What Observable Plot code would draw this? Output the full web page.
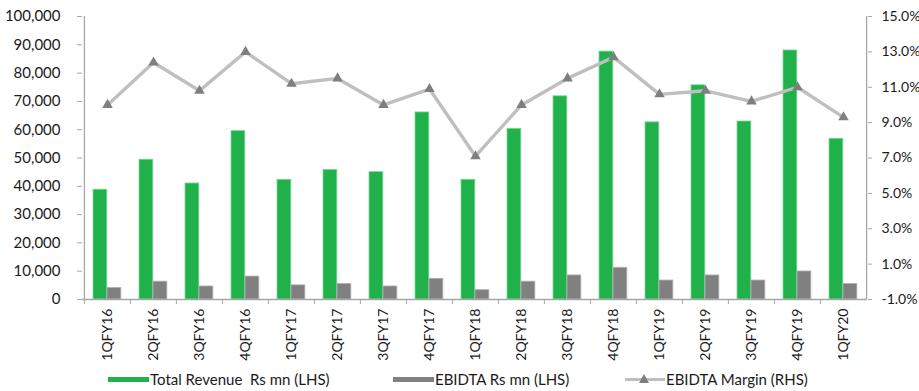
<!DOCTYPE html>
<html>
<head>
<meta charset="utf-8">
<script src="https://cdn.jsdelivr.net/npm/d3@7"></script>
<script src="https://cdn.jsdelivr.net/npm/@observablehq/plot@0.6"></script>
<style>
  body { margin: 0; background: #fff; font-family: Lato, "Open Sans", sans-serif; }
  #chart { position: relative; width: 919px; height: 391px; }
  .legend { position: absolute; top: 369px; left: 0; width: 919px; height: 20px; font-size: 15px; color: #1a1a1a; }
  .item { position: absolute; top: 0; display: flex; align-items: center; height: 20px; white-space: pre; }
  .sw { display: inline-block; width: 41px; height: 5px; margin-right: 1px; }
  .ln { position: relative; width: 40px; height: 20px; margin-right: 1px; }
  .ln .bar { position: absolute; left: 0; right: 0; top: 8.5px; height: 3px; background: #bfbfbf; }
  .ln .tri { position: absolute; left: 14px; top: 5px; width: 0; height: 0;
             border-left: 5px solid transparent; border-right: 5px solid transparent; border-bottom: 9px solid #7f7f7f; }
</style>
</head>
<body>
<div id="chart"></div>
<script>
// Quarterly results, FY16 to 1QFY20
const quarters = ["1QFY16","2QFY16","3QFY16","4QFY16","1QFY17","2QFY17","3QFY17","4QFY17",
                  "1QFY18","2QFY18","3QFY18","4QFY18","1QFY19","2QFY19","3QFY19","4QFY19","1QFY20"];
// Total revenue, Rs mn (left axis)
const revenue = [38800, 49400, 41000, 59500, 42300, 45800, 45000, 66100,
                 42300, 60300, 71800, 87600, 62600, 75700, 62900, 88000, 56800];
// EBIDTA, Rs mn (left axis)
const ebitda = [4100, 6300, 4600, 8100, 5000, 5500, 4600, 7300,
                3300, 6300, 8500, 11200, 6700, 8500, 6700, 9900, 5500];
// EBIDTA margin, % (right axis)
const margin = [10.0, 12.4, 10.8, 13.0, 11.2, 11.5, 10.0, 10.9,
                7.1, 10.0, 11.5, 12.7, 10.6, 10.8, 10.2, 11.0, 9.3];

const leftTicks = [0, 10000, 20000, 30000, 40000, 50000, 60000, 70000, 80000, 90000, 100000];
const rightTicks = [-1, 1, 3, 5, 7, 9, 11, 13, 15];

// The right-hand percentage axis is mapped linearly onto the left-hand value scale
const Y_MAX = 100000, M_MIN = -1, M_MAX = 15;
const toLeft = (m) => (m - M_MIN) / (M_MAX - M_MIN) * Y_MAX;
const fromLeft = (v) => M_MIN + v / Y_MAX * (M_MAX - M_MIN);

const rows = quarters.map((q, i) => ({q, revenue: revenue[i], ebitda: ebitda[i], margin: margin[i]}));

const W = 919, H = 360, mL = 82, mR = 52, mT = 16, mB = 61;
const bw = (W - mL - mR) / quarters.length;
const axisColor = "#a6a6a6";
const ink = "#1a1a1a";

const chart = Plot.plot({
  width: W, height: H,
  marginLeft: mL, marginRight: mR, marginTop: mT, marginBottom: mB,
  style: {fontFamily: "Lato, 'Open Sans', sans-serif", fontSize: "14px", color: ink, background: "#fff", overflow: "visible"},
  x: {domain: quarters, padding: 0, axis: null, label: null},
  y: {domain: [0, Y_MAX], axis: null, label: null},
  marks: [
    Plot.barY(rows, {x: "q", y: "revenue", fill: "#21b14b", stroke: "#7fd59a", strokeWidth: 0.8,
                     insetLeft: 9, insetRight: bw - 23}),
    Plot.barY(rows, {x: "q", y: "ebitda", fill: "#808080", stroke: "#b0b0b0", strokeWidth: 0.8,
                     insetLeft: 23, insetRight: bw - 37}),
    // axis lines
    Plot.ruleY([0], {stroke: axisColor, strokeWidth: 1.3}),
    Plot.ruleX([quarters[0]], {dx: -bw / 2, stroke: axisColor, strokeWidth: 1.3}),
    Plot.ruleX([quarters[quarters.length - 1]], {dx: bw / 2, stroke: axisColor, strokeWidth: 1.3}),
    // margin line with triangle markers
    Plot.line(rows, {x: "q", y: (d) => toLeft(d.margin), stroke: "#bfbfbf", strokeWidth: 3.4}),
    Plot.dot(rows, {x: "q", y: (d) => toLeft(d.margin), symbol: "triangle", r: 3.9, fill: "#7f7f7f", stroke: "none"}),
    // left axis
    Plot.axisY({ticks: leftTicks, anchor: "left", label: null, tickFormat: d3.format(","), tickSize: 5, tickPadding: 17,
                stroke: axisColor, fill: ink, fontSize: 15}),
    // right axis (percent)
    Plot.axisY({ticks: rightTicks.map(toLeft), anchor: "right", label: null, tickFormat: (v) => fromLeft(v).toFixed(1) + "%",
                tickSize: 4, tickPadding: 10, stroke: axisColor, fill: ink, fontSize: 14}),
    // category boundary ticks
    Plot.axisX({anchor: "bottom", label: null, tickSize: 5, tickFormat: () => "", dx: -bw / 2, stroke: axisColor}),
    // category labels
    Plot.axisX({anchor: "bottom", label: null, tickSize: 0, tickPadding: 9, tickRotate: -90, fill: ink, fontSize: 14})
  ]
});

const root = document.getElementById("chart");
root.appendChild(chart);

const legend = document.createElement("div");
legend.className = "legend";
legend.innerHTML = `
  <div class="item" style="left:108px"><span class="sw" style="background:#21b14b"></span>Total Revenue  Rs mn (LHS)</div>
  <div class="item" style="left:393px"><span class="sw" style="background:#808080"></span>EBIDTA Rs mn (LHS)</div>
  <div class="item" style="left:625px"><span class="ln"><span class="bar"></span><span class="tri"></span></span>EBIDTA Margin (RHS)</div>`;
root.appendChild(legend);
</script>
</body>
</html>
